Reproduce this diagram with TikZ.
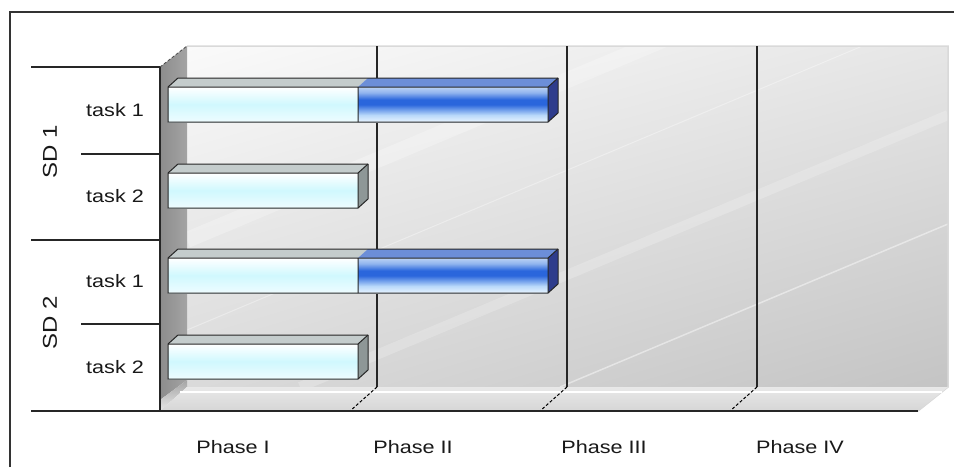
\documentclass[tikz,border=0pt]{standalone}
\usepackage{fontspec}
\setmainfont{Liberation Sans}
\newfontfamily\chartfont[FakeStretch=1.2]{Liberation Sans}
\usetikzlibrary{shadings}

\definecolor{wallA}{HTML}{FAFAFA}
\definecolor{wallB}{HTML}{E6E6E6}
\definecolor{wallC}{HTML}{DADADA}
\definecolor{wallD}{HTML}{C4C4C4}
\definecolor{sideA}{HTML}{8C8C8C}
\definecolor{sideB}{HTML}{A4A4A4}
\definecolor{floorA}{HTML}{E8E8E8}
\definecolor{floorB}{HTML}{D6D6D6}
\definecolor{cyanmid}{HTML}{D0F8FE}
\definecolor{cyanlow}{HTML}{EEFCFF}
\definecolor{cyantop}{HTML}{C4CCCC}
\definecolor{cyanside}{HTML}{8E9797}
\definecolor{blueA}{HTML}{E8F4FF}
\definecolor{blueB}{HTML}{B8D8FA}
\definecolor{blueC}{HTML}{2A66DC}
\definecolor{blueD}{HTML}{90B4EE}
\definecolor{blueE}{HTML}{BCD2F4}
\definecolor{bluetop}{HTML}{6C8ED8}
\definecolor{blueside}{HTML}{2E3C8C}

\pgfdeclareverticalshading{bluefront}{100bp}{color(0bp)=(blueA); color(25bp)=(blueA); color(35bp)=(blueB); color(50bp)=(blueC); color(57bp)=(blueC); color(67bp)=(blueD); color(75bp)=(blueE); color(100bp)=(blueE)}

\begin{document}
\begin{tikzpicture}[x=1pt, y=-1pt,
        frameline/.style={black!80, line width=1.6pt},
        axisline/.style={black!85, line width=1.3pt},
        gridline/.style={black!85, line width=1.2pt},
        gridfoot/.style={black, line width=1pt, densely dashed},
        wallrim/.style={black!15, line width=1.5pt},
        barline/.style={black!85, line width=1pt, line join=round},
        cyanfront/.style={top color=white, bottom color=cyanlow, middle color=cyanmid},
        tasklabel/.style={font=\chartfont\fontsize{18}{20}\selectfont, text=black!90},
        sdlabel/.style={font=\chartfont\fontsize{20}{22}\selectfont, text=black!90, rotate=90},
        phaselabel/.style={font=\chartfont\fontsize{18}{20}\selectfont, text=black!90}]
                \useasboundingbox (0,0) rectangle (954,467);
                \fill[white] (0,0) rectangle (954,467);
                \draw[frameline] (10,467) -- (10,12) -- (954,12);

                % back wall, side wall and floor
                \shade[upper left=wallA, upper right=wallB, lower left=wallC, lower right=wallD] (187,46) rectangle (948,387);
                \begin{scope}
                    \clip (187,46) rectangle (948,387);
                    \draw[white, line width=16pt, opacity=0.25] (187,240) -- (948,-80);
                    \draw[white, line width=10pt, opacity=0.2] (300,387) -- (948,115);
                    \draw[white, line width=1.5pt, opacity=0.45] (560,387) -- (948,224);
                    \draw[white, line width=1pt, opacity=0.35] (187,330) -- (948,10);
                \end{scope}
                \draw[wallrim] (187,46) -- (948,46) -- (948,387) -- (918,411);
                \shade[left color=sideA, right color=sideB] (160,67) -- (187,46) -- (187,380) -- (160,400) -- cycle;
                \shade[top color=sideB, bottom color=floorA] (160,400) -- (187,380) -- (187,387) -- (160,411) -- cycle;
                \shade[top color=floorA, bottom color=floorB] (160,411) -- (187,387) -- (948,387) -- (918,411) -- cycle;
                \draw[white, line width=1.5pt] (180,392) -- (942,392);
                \draw[black!70, line width=0.8pt, densely dashed] (160,67) -- (187,46);

                % phase dividers
                \draw[gridline] (377,46) -- (377,387);
                \draw[gridline] (567,46) -- (567,387);
                \draw[gridline] (757,46) -- (757,387);
                \draw[gridfoot] (377,387) -- (350,411);
                \draw[gridfoot] (567,387) -- (540,411);
                \draw[gridfoot] (757,387) -- (730,411);

                % category axis
                \draw[axisline] (160,67) -- (160,411);
                \draw[axisline] (31,67) -- (160,67);
                \draw[axisline] (81,154) -- (160,154);
                \draw[axisline] (31,240) -- (160,240);
                \draw[axisline] (81,324) -- (160,324);
                \draw[axisline] (31,411) -- (918,411);

                % SD 1, task 1
                \fill[cyantop] (168,87) -- (178,78) -- (368,78) -- (358,87) -- cycle;
                \shade[cyanfront] (168,87) rectangle (358,122);
                \fill[bluetop] (358,87) -- (368,78) -- (558,78) -- (548,87) -- cycle;
                \fill[blueside] (548,87) -- (558,78) -- (558,113) -- (548,122) -- cycle;
                \shade[shading=bluefront] (358,87) rectangle (548,122);
                \draw[barline] (168,122) -- (168,87) -- (178,78) -- (558,78) -- (558,113) -- (548,122) -- cycle;
                \draw[barline] (168,87) -- (548,87) -- (558,78) (358,87) -- (358,122) (548,87) -- (548,122);

                % SD 1, task 2
                \fill[cyantop] (168,173) -- (178,164) -- (368,164) -- (358,173) -- cycle;
                \fill[cyanside] (358,173) -- (368,164) -- (368,199) -- (358,208) -- cycle;
                \shade[cyanfront] (168,173) rectangle (358,208);
                \draw[barline] (168,208) -- (168,173) -- (178,164) -- (368,164) -- (368,199) -- (358,208) -- cycle;
                \draw[barline] (168,173) -- (358,173) -- (368,164) (358,173) -- (358,208);

                % SD 2, task 1
                \fill[cyantop] (168,258) -- (178,249) -- (368,249) -- (358,258) -- cycle;
                \shade[cyanfront] (168,258) rectangle (358,293);
                \fill[bluetop] (358,258) -- (368,249) -- (558,249) -- (548,258) -- cycle;
                \fill[blueside] (548,258) -- (558,249) -- (558,284) -- (548,293) -- cycle;
                \shade[shading=bluefront] (358,258) rectangle (548,293);
                \draw[barline] (168,293) -- (168,258) -- (178,249) -- (558,249) -- (558,284) -- (548,293) -- cycle;
                \draw[barline] (168,258) -- (548,258) -- (558,249) (358,258) -- (358,293) (548,258) -- (548,293);

                % SD 2, task 2
                \fill[cyantop] (168,344) -- (178,335) -- (368,335) -- (358,344) -- cycle;
                \fill[cyanside] (358,344) -- (368,335) -- (368,370) -- (358,379) -- cycle;
                \shade[cyanfront] (168,344) rectangle (358,379);
                \draw[barline] (168,379) -- (168,344) -- (178,335) -- (368,335) -- (368,370) -- (358,379) -- cycle;
                \draw[barline] (168,344) -- (358,344) -- (368,335) (358,344) -- (358,379);

                \node[sdlabel] (sd1) at (50,152) {SD 1};
                \node[sdlabel] (sd2) at (50,323) {SD 2};
                \node[tasklabel] (sd1task1) at (115,110) {task 1};
                \node[tasklabel] (sd1task2) at (115,196) {task 2};
                \node[tasklabel] (sd2task1) at (115,281) {task 1};
                \node[tasklabel] (sd2task2) at (115,367) {task 2};
                \node[phaselabel] (phase1) at (233,447) {Phase I};
                \node[phaselabel] (phase2) at (413,447) {Phase II};
                \node[phaselabel] (phase3) at (604,447) {Phase III};
                \node[phaselabel] (phase4) at (800,447) {Phase IV};

            \end{tikzpicture}
\end{document}
